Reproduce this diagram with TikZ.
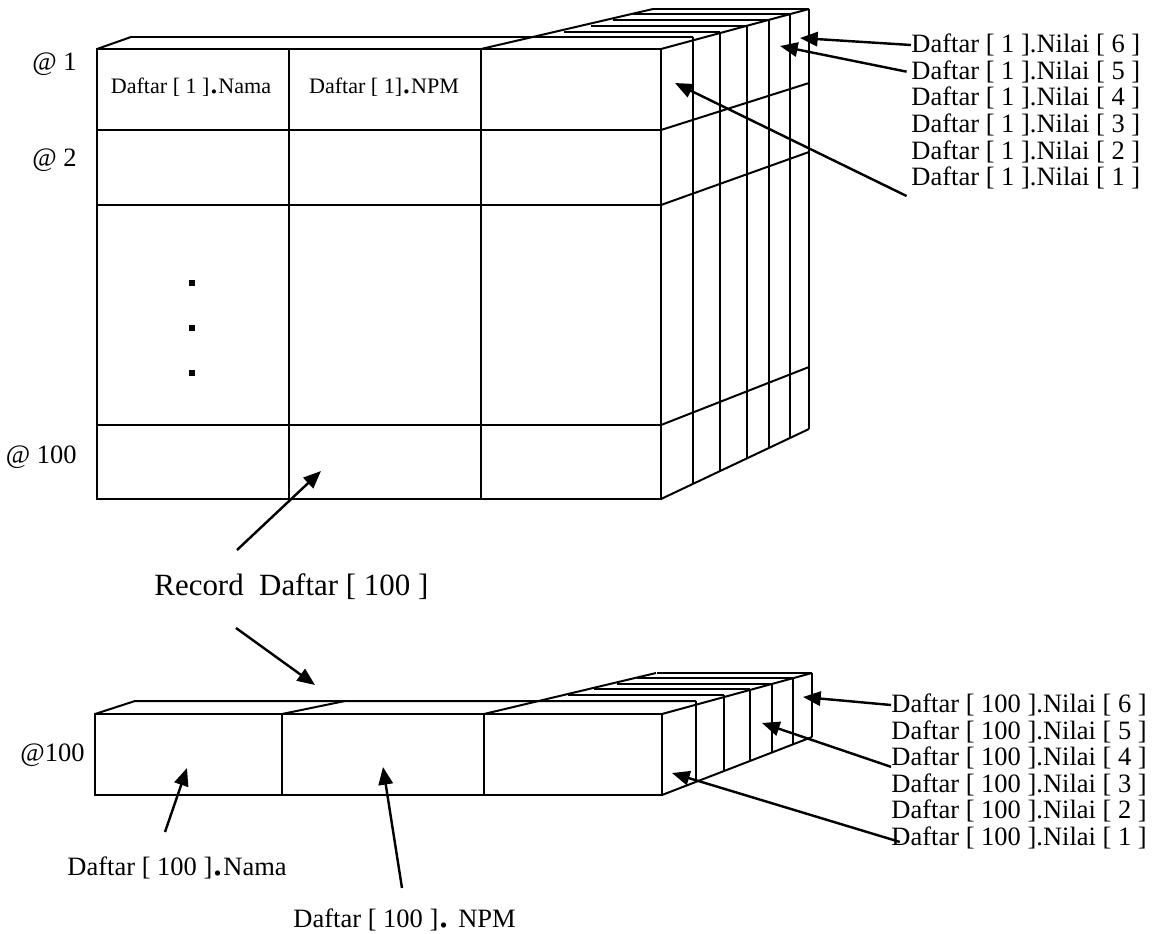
\documentclass[tikz,border=0pt]{standalone}
\usepackage{fontspec}
\setmainfont{Liberation Serif}
\usetikzlibrary{arrows.meta,calc}
\newcommand{\bdot}[1]{{\fontsize{#1}{#1}\selectfont.}}
\tikzset{
  box/.style={draw, line width=0.9pt},
  pointer/.style={-{Triangle[length=8pt,width=6.5pt]}, line width=1.1pt},
  lbl/.style={font=\fontsize{12}{14}\selectfont, inner sep=0pt},
  celltext/.style={font=\fontsize{10}{12}\selectfont, inner sep=0pt},
  rowlbl/.style={lbl, anchor=east}
}
\begin{document}
\begin{tikzpicture}[x=0.4528pt, y=-0.4528pt]
\useasboundingbox (0,0) rectangle (1156,934);

% array Daftar: front
\draw[box] (97,49) rectangle (661,499);
\foreach \y in {130,205,425} \draw[box] (97,\y) -- (661,\y);
\foreach \x in {289,481} \draw[box] (\x,49) -- (\x,499);
% array Daftar: top
\draw[box] (97,49) -- (131,37) -- (693,37);
\draw[box] (481,49) -- (653,9);
\foreach \y/\xa/\xb in {31.7/564/720, 26/591/747, 20/613/769, 14.3/633/790, 8.7/653/809}
  \draw[box] (\xa,\y) -- (\xb,\y);
% array Daftar: Nilai side
\draw[box] (661,49) -- (809,9);
\foreach \ya/\yb in {130/83, 205/152, 425/367, 499/429}
  \draw[box] (661,\ya) -- (809,\yb);
\foreach \x/\ya/\yb in {692.7/37.3/484, 720/31.7/471, 746.7/26/458.5, 769.3/20/447.8, 790/14.3/438, 808.7/8.7/429}
  \draw[box] (\x,\ya) -- (\x,\yb);

\node[celltext] (c1) at (191,87) {Daftar [ 1 ]\bdot{16}Nama};
\node[celltext] (c2) at (384,87) {Daftar [ 1]\bdot{16}NPM};
\foreach \y in {283,328,373} \fill (189,\y-3) rectangle (195,\y+3);

\node[rowlbl] (at1) at (77,64) {@ 1};
\node[rowlbl] (at2) at (77,160) {@ 2};
\node[rowlbl] (at3) at (77,457) {@ 100};

% Nilai labels, upper
\foreach \i [count=\k from 0] in {6,5,4,3,2,1}
  \node[lbl, anchor=west] (n\i) at (911,45+26.67*\k) {Daftar [ 1 ].Nilai [ \i{} ]};
\coordinate (t6) at (800,38);
\coordinate (t5) at (780,46);
\coordinate (t1) at (675,83);
\draw[pointer] (n6.west) -- (t6);
\draw[pointer] ([xshift=-2pt]n5.west) -- (t5);
\draw[pointer] ([xshift=-2pt,yshift=-8pt]n1.west) -- (t1);

% record
\node[font=\fontsize{14}{16}\selectfont, inner sep=0pt, anchor=base west] (rec) at (154,595) {Record\ \ Daftar [ 100 ]};
\coordinate (rt1) at (321,471);
\coordinate (rt2) at (315,685);
\draw[pointer] ($(rec.base west)+(83,-45)$) -- (rt1);
\draw[pointer] ($(rec.base west)+(82,33)$) -- (rt2);

% one record: front
\draw[box] (95,714) rectangle (662,795);
\foreach \x in {282,484} \draw[box] (\x,714) -- (\x,795);
% one record: top
\draw[box] (95,714) -- (135,701) -- (696,701);
\draw[box] (282,714) -- (345,701);
\draw[box] (484,714) -- (656,673);
\foreach \y/\xa/\xb in {695.3/568/724, 689.3/594/750, 683.7/617/772, 678.3/637/793, 672.7/657/812}
  \draw[box] (\xa,\y) -- (\xb,\y);
% one record: Nilai side
\draw[box] (662,714) -- (812,673);
\draw[box] (662,795) -- (812,737);
\foreach \x/\ya/\yb in {696/701/781.9, 724/695.3/771, 750/689.3/761, 772/683.7/752.5, 793/678.3/744.3, 812/672.7/737}
  \draw[box] (\x,\ya) -- (\x,\yb);

\node[rowlbl] (atb) at (85,755) {@100};

% Nilai labels, lower
\foreach \i [count=\k from 0] in {6,5,4,3,2,1}
  \node[lbl, anchor=west] (m\i) at (891,705+26.5*\k) {Daftar [ 100 ].Nilai [ \i{} ]};
\coordinate (s6) at (803,697);
\coordinate (s4) at (762,723);
\coordinate (s1) at (672,773);
\draw[pointer] (m6.west) -- (s6);
\draw[pointer] ([yshift=-4pt]m4.west) -- (s4);
\draw[pointer] ([xshift=4pt,yshift=-2pt]m1.west) -- (s1);

% field labels
\node[lbl, anchor=west] (nama) at (67,868) {Daftar [ 100 ]\bdot{20}Nama};
\node[lbl, anchor=west] (npm) at (293,920) {Daftar [ 100 ]\bdot{20} NPM};
\coordinate (f1) at (187,768);
\coordinate (f2) at (383,767);
\draw[pointer] ($(nama.west)+(98,-36)$) -- (f1);
\draw[pointer] ($(npm.west)+(109,-32)$) -- (f2);
\end{tikzpicture}
\end{document}
